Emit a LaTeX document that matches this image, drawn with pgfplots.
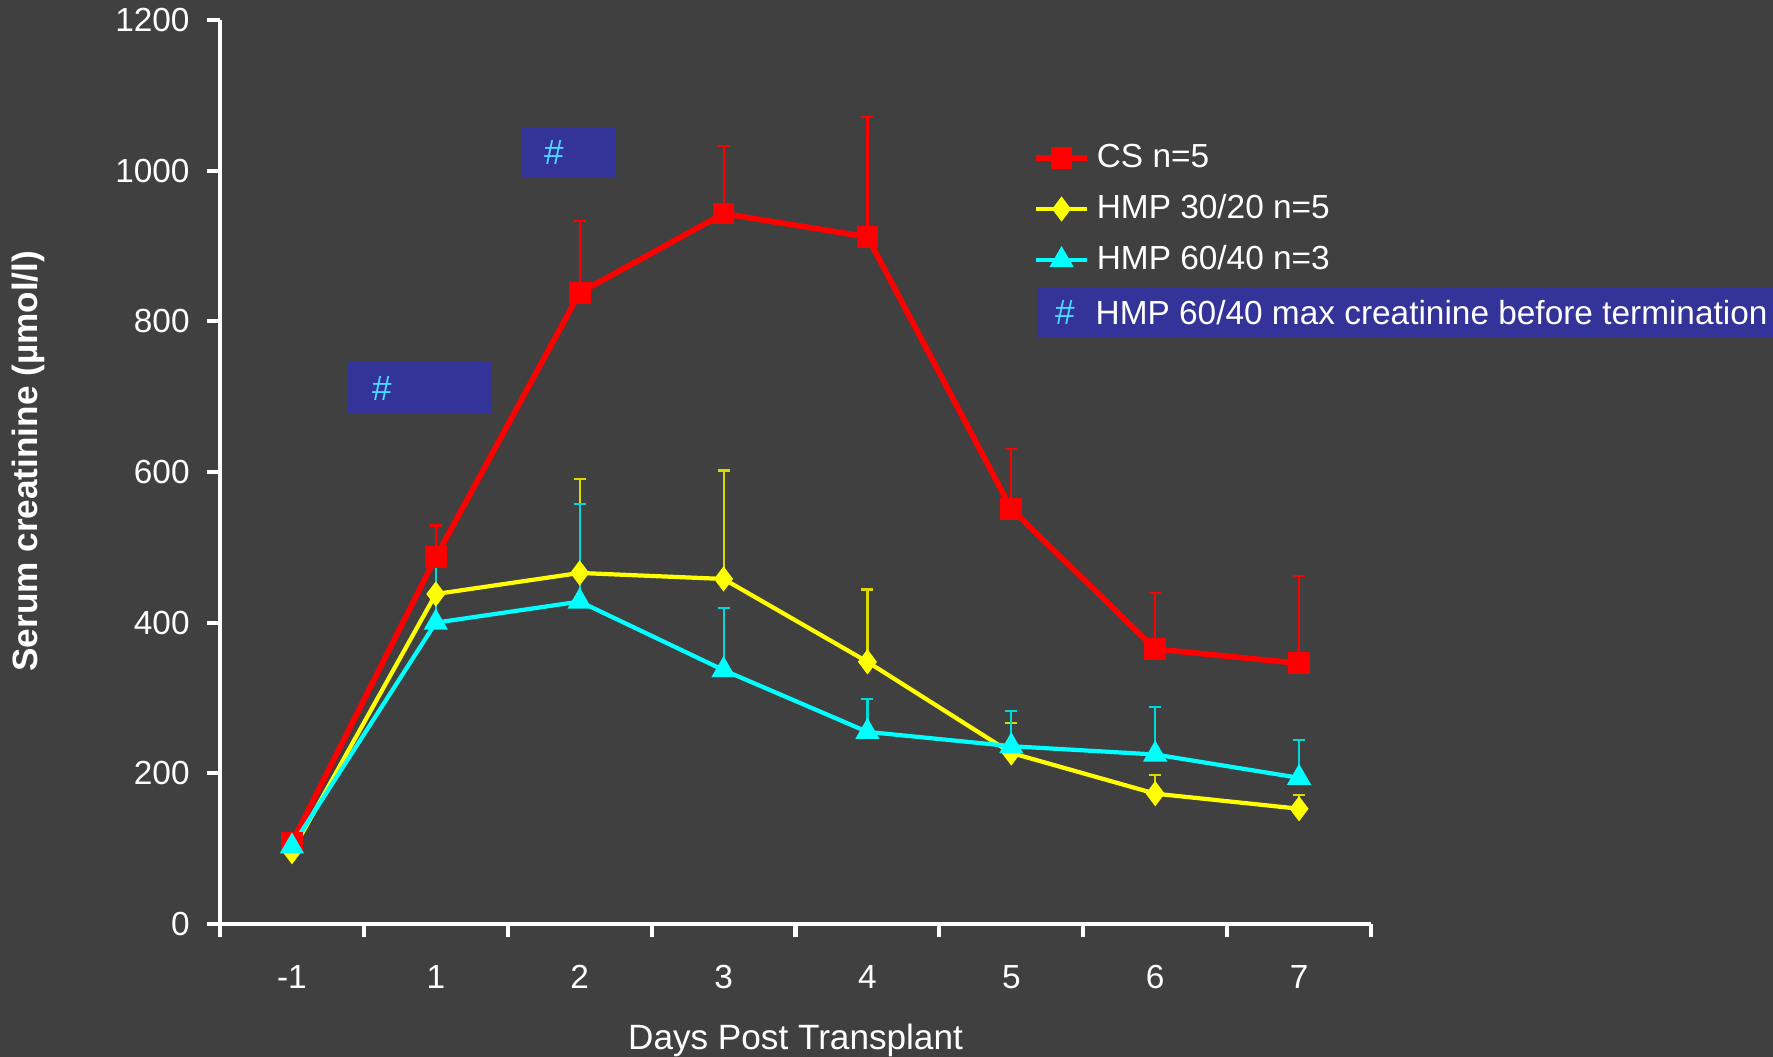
\documentclass[border=0pt]{standalone}
\usepackage{fontspec}
\setmainfont{Liberation Sans}
\usepackage{pgfplots}
\pgfplotsset{compat=1.18}
\definecolor{bg}{HTML}{404040}
\definecolor{boxblue}{HTML}{333399}
\definecolor{hashcyan}{HTML}{4DD8FF}
\definecolor{cs}{HTML}{FF0000}
\definecolor{hmpa}{HTML}{FFFF00}
\definecolor{hmpb}{HTML}{00FFFF}

\begin{document}
\begin{tikzpicture}
\clip (-2.20,-1.33) rectangle (15.53,9.24);
\fill[bg] (-2.20,-1.33) rectangle (15.53,9.24);
\begin{axis}[
  scale only axis, width=11.51cm, height=9.04cm,
  at={(0,0)}, anchor=south west,
  xmin=-0.5, xmax=7.5, ymin=0, ymax=1200,
  axis x line=bottom, axis y line=left,
  axis line style={-, white, line width=1.4pt},
  tick style={white, line width=1.2pt},
  tick align=outside, major tick length=0.13cm,
  xtick={-0.5,0.5,...,7.5},
  xticklabels={-1,1,2,3,4,5,6,7},
  x tick label as interval,
  ytick={0,200,...,1200},
  /pgf/number format/assume math mode=true,
  /pgf/number format/1000 sep={},
  tick label style={text=white, font=\fontsize{9.5}{11}\selectfont},
  xticklabel style={yshift=-0.16cm},
  yticklabel style={xshift=-0.05cm},
  xlabel={Days Post Transplant},
  ylabel={Serum creatinine (µmol/l)},
  x label style={at={(axis description cs:0.5,-0.129)}, anchor=center, text=white, font=\fontsize{10}{12}\selectfont},
  y label style={at={(axis description cs:-0.1668,0.512)}, anchor=center, text=white, font=\fontsize{10}{12}\selectfont\bfseries},
  legend style={at={(axis description cs:0.6968,0.873)}, anchor=north west, draw=none, fill=none,
    text=white, font=\fontsize{9.5}{11}\selectfont, row sep=0.2cm, column sep=0.07cm,
    nodes={inner sep=0pt, text height=0.25cm, text depth=0.06cm}},
  legend cell align=left,
  legend image code/.code={\draw[mark repeat=2,mark phase=2] plot coordinates {(0cm,0cm)(0.255cm,0cm)(0.51cm,0cm)};},
]
\addplot[cs, line width=1.6pt, mark=square*, mark size=2.3pt, mark options={solid, fill=cs, draw=cs},
  error bars/.cd, y dir=plus, y explicit,
  error bar style={line width=0.6pt, cs},
  error mark options={rotate=90, mark size=1.7pt, line width=0.6pt, cs}]
  coordinates {(0,108) +- (0,0) (1,487) +- (0,42) (2,838) +- (0,95) (3,943) +- (0,90)
               (4,912) +- (0,159) (5,551) +- (0,80) (6,365) +- (0,74) (7,346) +- (0,116)};
\addlegendentry{CS n=5}
\addplot[hmpa, line width=1.2pt, mark=diamond*, mark size=2.6pt, mark options={solid, fill=hmpa, draw=hmpa},
  error bars/.cd, y dir=plus, y explicit,
  error bar style={line width=0.6pt, hmpa!85!black},
  error mark options={rotate=90, mark size=1.7pt, line width=0.6pt, hmpa!85!black}]
  coordinates {(0,96) +- (0,0) (1,438) +- (0,36) (2,466) +- (0,125) (3,458) +- (0,144)
               (4,348) +- (0,96) (5,227) +- (0,40) (6,173) +- (0,25) (7,153) +- (0,18)};
\addlegendentry{HMP 30/20 n=5}
\addplot[hmpb, line width=1.2pt, mark=triangle*, mark size=2.8pt, mark options={solid, fill=hmpb, draw=hmpb},
  error bars/.cd, y dir=plus, y explicit,
  error bar style={line width=0.6pt, hmpb!85!black},
  error mark options={rotate=90, mark size=1.7pt, line width=0.6pt, hmpb!85!black}]
  coordinates {(0,103) +- (0,0) (1,400) +- (0,80) (2,428) +- (0,130) (3,337) +- (0,82)
               (4,255) +- (0,44) (5,236) +- (0,47) (6,225) +- (0,63) (7,194) +- (0,50)};
\addlegendentry{HMP 60/40 n=3}
\end{axis}
% annotation boxes
\fill[boxblue] (1.28,5.10) rectangle (2.71,5.62);
\node[text=hashcyan, font=\fontsize{10}{12}\selectfont] at (1.62,5.36) {\#};
\fill[boxblue] (3.02,7.46) rectangle (3.96,7.97);
\node[text=hashcyan, font=\fontsize{10}{12}\selectfont] at (3.34,7.715) {\#};
\fill[boxblue] (8.17,5.87) rectangle (15.6,6.36);
\node[text=hashcyan, font=\fontsize{10}{12}\selectfont] at (8.45,6.115) {\#};
\node[anchor=west, inner sep=0pt, text=white, font=\fontsize{9.5}{11}\selectfont] at (8.75,6.115) {HMP 60/40 max creatinine before termination};
\end{tikzpicture}
\end{document}
